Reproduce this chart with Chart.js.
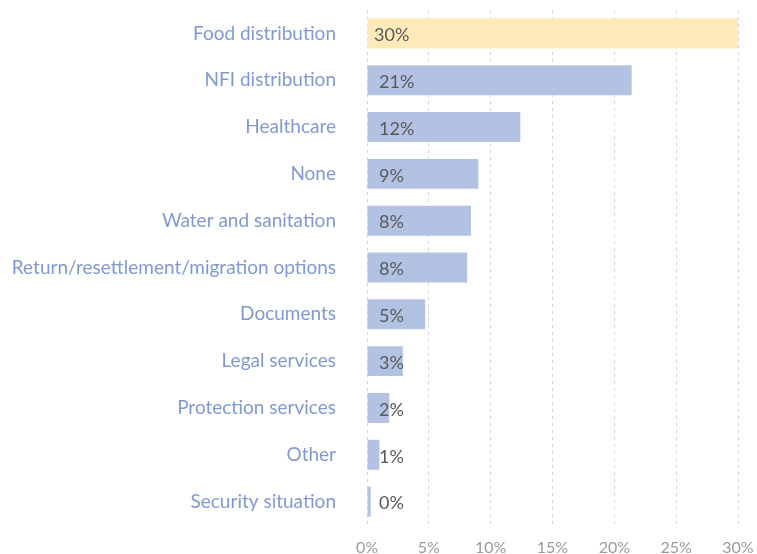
<!DOCTYPE html>
<html>
<head>
<meta charset="utf-8">
<script src="https://cdn.jsdelivr.net/npm/chart.js@4"></script>
<style>
  html, body { margin: 0; padding: 0; background: #fff; }
  #wrap { width: 757px; height: 554px; }
</style>
</head>
<body>
<div id="wrap"><canvas id="chart" width="757" height="554"></canvas></div>
<script>
const categories = [
  'Food distribution',
  'NFI distribution',
  'Healthcare',
  'None',
  'Water and sanitation',
  'Return/resettlement/migration options',
  'Documents',
  'Legal services',
  'Protection services',
  'Other',
  'Security situation'
];
const shares = [30, 21.4, 12.4, 9.0, 8.4, 8.1, 4.7, 2.9, 1.8, 1.0, 0.3];
const xTicks = [0, 5, 10, 15, 20, 25, 30];

const FONT = 'Lato, "Open Sans", sans-serif';
const BLUE = '#b3c2e3';
const YELLOW = '#fee9b9';

// value text at the start of every bar
const valueLabels = {
  id: 'valueLabels',
  afterDatasetsDraw(chart) {
    const ctx = chart.ctx;
    const x0 = chart.scales.x.getPixelForValue(0);
    const meta = chart.getDatasetMeta(0);
    ctx.save();
    ctx.font = '18px ' + FONT;
    ctx.fillStyle = '#595959';
    ctx.textAlign = 'left';
    ctx.textBaseline = 'middle';
    meta.data.forEach((bar, i) => {
      const txt = Math.round(shares[i]) + '%';
      const off = i === 0 ? 7 : 12;
      ctx.fillText(txt, x0 + off, bar.y + 2);
    });
    ctx.restore();
  }
};

new Chart(document.getElementById('chart').getContext('2d'), {
  type: 'bar',
  data: {
    labels: categories,
    datasets: [{
      data: shares,
      backgroundColor: shares.map((v, i) => i === 0 ? YELLOW : BLUE),
      borderWidth: 0,
      barPercentage: 0.64,
      categoryPercentage: 1
    }]
  },
  options: {
    indexAxis: 'y',
    responsive: false,
    animation: false,
    layout: { padding: { top: 10, right: 19, left: 0, bottom: 0 } },
    plugins: { legend: { display: false }, tooltip: { enabled: false } },
    scales: {
      x: {
        min: 0,
        max: 30,
        afterBuildTicks(scale) {
          scale.ticks = xTicks.map(v => ({ value: v }));
        },
        afterFit(scale) {
          scale.height = 29;
          scale.paddingLeft = 0;
          scale.paddingRight = 0;
        },
        ticks: {
          callback: v => v + '%',
          color: '#9a9a9a',
          font: { family: FONT, size: 16 },
          padding: 13,
          maxRotation: 0
        },
        grid: {
          color: '#d4d4d4',
          lineWidth: 1,
          drawTicks: false
        },
        border: { display: false, dash: [3, 4] }
      },
      y: {
        afterFit(scale) {
          scale.width = 367;
          scale.paddingTop = 0;
          scale.paddingBottom = 0;
        },
        ticks: {
          color: '#8198d3',
          font: { family: FONT, size: 19 },
          padding: 31
        },
        grid: { display: false, drawTicks: false },
        border: { display: false }
      }
    }
  },
  plugins: [valueLabels]
});
</script>
</body>
</html>
